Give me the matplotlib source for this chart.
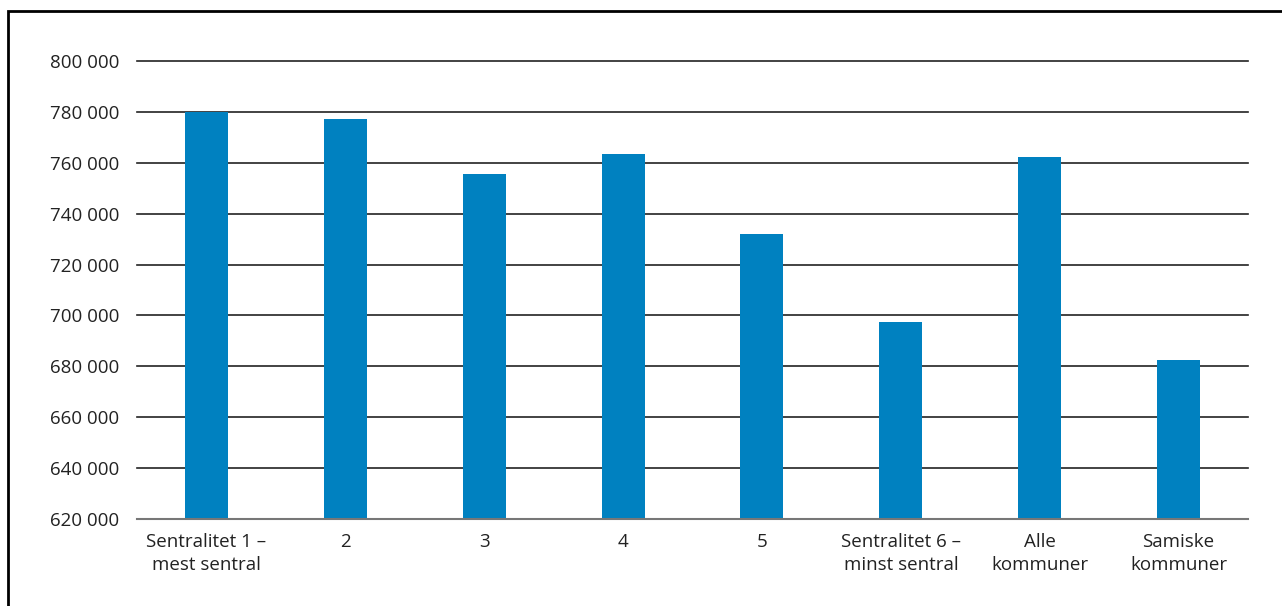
import matplotlib.pyplot as plt
import numpy as np
from matplotlib.patches import Rectangle

categories = ['Sentralitet 1 –\nmest sentral', '2', '3', '4', '5',
              'Sentralitet 6 –\nminst sentral', 'Alle\nkommuner', 'Samiske\nkommuner']
values = [780000, 777400, 755400, 763600, 732200, 697600, 762400, 682300]
yticks = np.arange(620000, 800001, 20000)

plt.rcParams['font.family'] = ['Open Sans', 'DejaVu Sans']

fig = plt.figure(figsize=(12.82, 6.06), dpi=100)
ax = fig.add_axes([137 / 1282, 1 - 519 / 606, (1248 - 137) / 1282, (519 - 61) / 606])

x = np.arange(len(categories))
ax.bar(x, values, width=0.31, color='#0081C0', zorder=3)

ax.set_ylim(620000, 800000)
ax.set_xlim(-0.5, len(categories) - 0.5)
ax.set_yticks(yticks)
ax.set_yticklabels([f'{v:,}'.replace(',', ' ') for v in yticks], fontsize=13.5, color='#222222')
ax.set_xticks(x)
ax.set_xticklabels(categories, fontsize=13.5, color='#222222', linespacing=1.35)
ax.tick_params(axis='both', length=0)
ax.tick_params(axis='y', pad=13)
ax.tick_params(axis='x', pad=10)

ax.grid(axis='y', color='#222222', linewidth=1.2, zorder=0)
for line in ax.get_ygridlines():
    line.set_clip_on(False)
for s in ['top', 'right', 'left']:
    ax.spines[s].set_visible(False)
ax.spines['bottom'].set_color('#777777')
ax.spines['bottom'].set_linewidth(1.5)
ax.spines['bottom'].set_zorder(4)

# frame around the figure (clipped at right and bottom)
fig.patches.append(Rectangle((8 / 1282, -0.05), 1.1, 1 - 11 / 606 + 0.05,
                             transform=fig.transFigure, fill=False,
                             edgecolor='black', linewidth=2))

fig.savefig('out.png', dpi=100)
